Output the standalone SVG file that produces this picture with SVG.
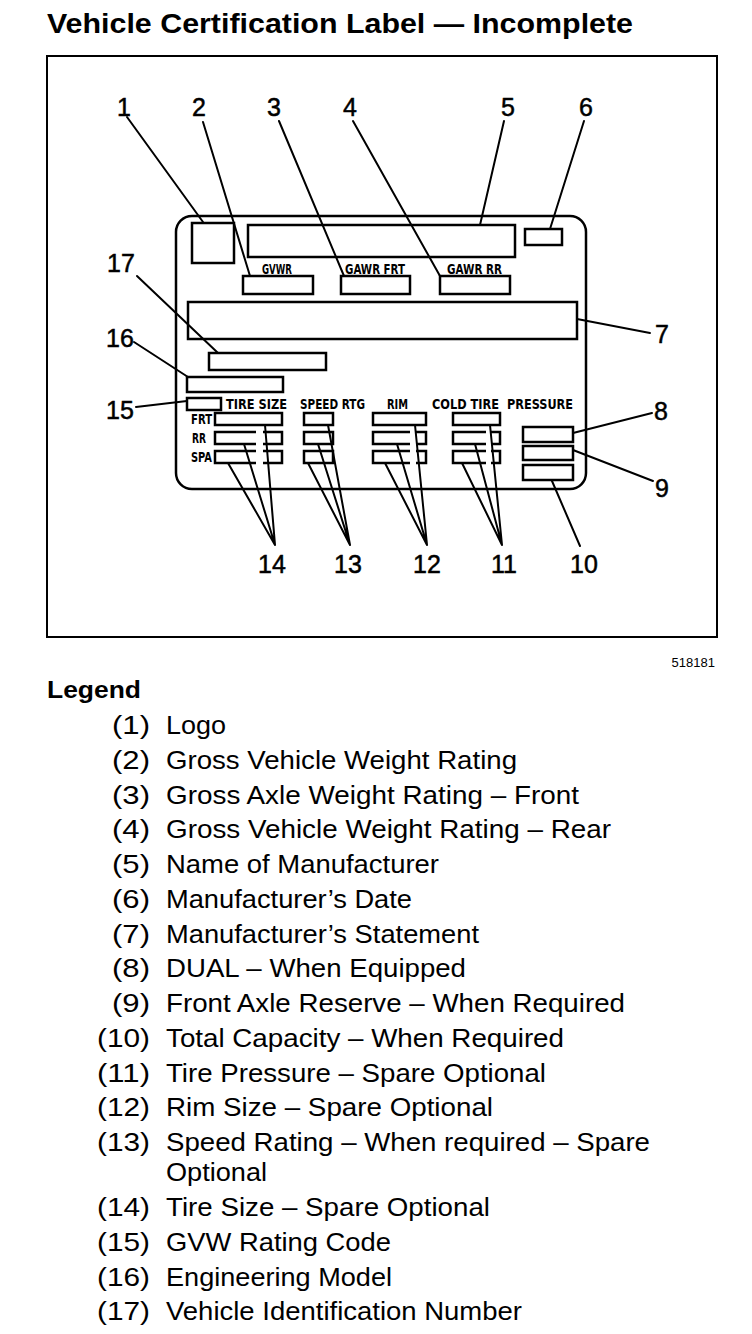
<svg xmlns="http://www.w3.org/2000/svg" width="752" height="1334" viewBox="0 0 752 1334">
<style>
.bg{fill:#fff}
.frame{fill:none;stroke:#000;stroke-width:2}
.card{fill:none;stroke:#000;stroke-width:2.5}
.box{fill:none;stroke:#000;stroke-width:2.5}
.ld{fill:none;stroke:#000;stroke-width:2;stroke-linecap:round}
.num{font-family:"Liberation Sans",Arial,sans-serif;font-size:25px;fill:#000;stroke:#000;stroke-width:0.5;text-anchor:middle}
.lbl{font-family:"Liberation Sans Narrow","DejaVu Sans Condensed","Liberation Sans",sans-serif;font-size:14px;font-weight:bold;fill:#000}
.title{font-family:"Liberation Sans",Arial,sans-serif;font-size:28px;font-weight:bold;fill:#000}
.leg{font-family:"Liberation Sans",Arial,sans-serif;font-size:26px;fill:#000}
.legn{font-family:"Liberation Sans",Arial,sans-serif;font-size:26px;fill:#000;text-anchor:end}
</style>
<rect class="bg" x="0" y="0" width="752" height="1334"/>
<text class="title" x="47" y="33" textLength="586" lengthAdjust="spacingAndGlyphs">Vehicle Certification Label — Incomplete</text>
<rect class="frame" x="47" y="56" width="670" height="581"/>
<text x="715" y="667" style="font-family:'Liberation Sans',Arial,sans-serif;font-size:13px;text-anchor:end">518181</text>

<g id="label-card">
<rect class="card" x="176" y="216" width="410" height="273" rx="16"/>
</g>
<g id="n1-logo"><rect class="box" x="192" y="223" width="42" height="40"/></g>
<g id="n5-manufacturer"><rect class="box" x="248" y="225" width="267" height="32"/></g>
<g id="n6-date"><rect class="box" x="525" y="229" width="37" height="16"/></g>
<g id="n2-gvwr">
<text class="lbl" x="262" y="274" textLength="30" lengthAdjust="spacingAndGlyphs">GVWR</text>
<rect class="box" x="243" y="276" width="70" height="18"/>
</g>
<g id="n3-gawr-frt">
<text class="lbl" x="345" y="274" textLength="60" lengthAdjust="spacingAndGlyphs">GAWR FRT</text>
<rect class="box" x="341" y="276" width="69" height="18"/>
</g>
<g id="n4-gawr-rr">
<text class="lbl" x="447" y="274" textLength="55" lengthAdjust="spacingAndGlyphs">GAWR RR</text>
<rect class="box" x="440" y="276" width="70" height="18"/>
</g>
<g id="n7-statement"><rect class="box" x="188" y="302" width="389" height="37"/></g>
<g id="n17-vin"><rect class="box" x="209" y="353" width="117" height="17"/></g>
<g id="n16-model"><rect class="box" x="187" y="377" width="96" height="15"/></g>
<g id="n15-gvw-code"><rect class="box" x="187" y="398" width="34" height="12"/></g>
<g id="header">
<text class="lbl" x="226" y="409" textLength="61" lengthAdjust="spacingAndGlyphs">TIRE SIZE</text>
<text class="lbl" x="300" y="409" textLength="65" lengthAdjust="spacingAndGlyphs">SPEED RTG</text>
<text class="lbl" x="387" y="409" textLength="21" lengthAdjust="spacingAndGlyphs">RIM</text>
<text class="lbl" x="432" y="409" textLength="67" lengthAdjust="spacingAndGlyphs">COLD TIRE</text>
<text class="lbl" x="507" y="409" textLength="66" lengthAdjust="spacingAndGlyphs">PRESSURE</text>
<text class="lbl" x="191" y="424" textLength="21" lengthAdjust="spacingAndGlyphs">FRT</text>
<text class="lbl" x="192" y="443" textLength="14" lengthAdjust="spacingAndGlyphs">RR</text>
<text class="lbl" x="191" y="462" textLength="21" lengthAdjust="spacingAndGlyphs">SPA</text>
</g>
<g id="n14-tire-size">
<rect class="box" x="215" y="413" width="67" height="12"/>
<path class="box" d="M256 432H215V444H256M263 432H282V444H263"/>
<path class="box" d="M256 451H215V463H256M263 451H282V463H263"/>
</g>
<g id="n13-speed">
<rect class="box" x="304" y="413" width="29" height="12"/>
<rect class="box" x="304" y="432" width="29" height="12"/>
<rect class="box" x="304" y="451" width="29" height="12"/>
</g>
<g id="n12-rim">
<rect class="box" x="373" y="413" width="53" height="12"/>
<path class="box" d="M410 432H373V444H410M416 432H426V444H416"/>
<path class="box" d="M410 451H373V463H410M416 451H426V463H416"/>
</g>
<g id="n11-pressure">
<rect class="box" x="453" y="413" width="47" height="12"/>
<path class="box" d="M486 432H453V444H486M491 432H500V444H491"/>
<path class="box" d="M486 451H453V463H486M491 451H500V463H491"/>
</g>
<g id="n8-dual"><rect class="box" x="523" y="427" width="50" height="15"/></g>
<g id="n9-reserve"><rect class="box" x="523" y="446" width="50" height="14"/></g>
<g id="n10-capacity"><rect class="box" x="523" y="465" width="50" height="15"/></g>

<g id="connectors">
<line class="ld" x1="127" y1="117" x2="203" y2="222"/>
<line class="ld" x1="203" y1="122" x2="250" y2="276"/>
<line class="ld" x1="279" y1="121" x2="344" y2="276"/>
<line class="ld" x1="353" y1="121" x2="440" y2="276"/>
<line class="ld" x1="504" y1="121" x2="480" y2="225"/>
<line class="ld" x1="584" y1="121" x2="550" y2="229"/>
<line class="ld" x1="577" y1="319" x2="650" y2="333"/>
<line class="ld" x1="137" y1="276" x2="218" y2="353"/>
<line class="ld" x1="134" y1="342" x2="188" y2="377"/>
<line class="ld" x1="136" y1="407" x2="187" y2="401"/>
<line class="ld" x1="573" y1="433" x2="652" y2="413"/>
<line class="ld" x1="573" y1="450" x2="653" y2="481"/>
<line class="ld" x1="552" y1="481" x2="580" y2="546"/>
<path class="ld" d="M265 425L275 545M244 444L275 545M228 463L275 545"/>
<path class="ld" d="M328 425L350 545M318 444L350 545M308 463L350 545"/>
<path class="ld" d="M415 425L427 545M397 444L427 545M385 463L427 545"/>
<path class="ld" d="M490 425L502 545M475 444L502 545M462 463L502 545"/>
</g>

<g id="callouts">
<text class="num" x="124" y="116">1</text>
<text class="num" x="199" y="116">2</text>
<text class="num" x="274" y="116">3</text>
<text class="num" x="350" y="116">4</text>
<text class="num" x="508" y="116">5</text>
<text class="num" x="586" y="116">6</text>
<text class="num" x="662" y="343">7</text>
<text class="num" x="661" y="420">8</text>
<text class="num" x="662" y="497">9</text>
<text class="num" x="584" y="573">10</text>
<text class="num" x="504" y="573">11</text>
<text class="num" x="427" y="573">12</text>
<text class="num" x="348" y="573">13</text>
<text class="num" x="272" y="573">14</text>
<text class="num" x="120" y="419">15</text>
<text class="num" x="120" y="347">16</text>
<text class="num" x="121" y="272">17</text>
</g>

<g id="legend">
<text class="title" x="47" y="698" style="font-size:24px" textLength="94" lengthAdjust="spacingAndGlyphs">Legend</text>
<text class="legn" x="150" y="734" textLength="38" lengthAdjust="spacingAndGlyphs">(1)</text><text class="leg" x="166" y="734" textLength="60" lengthAdjust="spacingAndGlyphs">Logo</text>
<text class="legn" x="150" y="769" textLength="38" lengthAdjust="spacingAndGlyphs">(2)</text><text class="leg" x="166" y="769" textLength="351" lengthAdjust="spacingAndGlyphs">Gross Vehicle Weight Rating</text>
<text class="legn" x="150" y="804" textLength="38" lengthAdjust="spacingAndGlyphs">(3)</text><text class="leg" x="166" y="804" textLength="413" lengthAdjust="spacingAndGlyphs">Gross Axle Weight Rating – Front</text>
<text class="legn" x="150" y="838" textLength="38" lengthAdjust="spacingAndGlyphs">(4)</text><text class="leg" x="166" y="838" textLength="445" lengthAdjust="spacingAndGlyphs">Gross Vehicle Weight Rating – Rear</text>
<text class="legn" x="150" y="873" textLength="38" lengthAdjust="spacingAndGlyphs">(5)</text><text class="leg" x="166" y="873" textLength="273" lengthAdjust="spacingAndGlyphs">Name of Manufacturer</text>
<text class="legn" x="150" y="908" textLength="38" lengthAdjust="spacingAndGlyphs">(6)</text><text class="leg" x="166" y="908" textLength="246" lengthAdjust="spacingAndGlyphs">Manufacturer’s Date</text>
<text class="legn" x="150" y="943" textLength="38" lengthAdjust="spacingAndGlyphs">(7)</text><text class="leg" x="166" y="943" textLength="313" lengthAdjust="spacingAndGlyphs">Manufacturer’s Statement</text>
<text class="legn" x="150" y="977" textLength="38" lengthAdjust="spacingAndGlyphs">(8)</text><text class="leg" x="166" y="977" textLength="300" lengthAdjust="spacingAndGlyphs">DUAL – When Equipped</text>
<text class="legn" x="150" y="1012" textLength="38" lengthAdjust="spacingAndGlyphs">(9)</text><text class="leg" x="166" y="1012" textLength="459" lengthAdjust="spacingAndGlyphs">Front Axle Reserve – When Required</text>
<text class="legn" x="150" y="1047" textLength="53" lengthAdjust="spacingAndGlyphs">(10)</text><text class="leg" x="166" y="1047" textLength="398" lengthAdjust="spacingAndGlyphs">Total Capacity – When Required</text>
<text class="legn" x="150" y="1082" textLength="53" lengthAdjust="spacingAndGlyphs">(11)</text><text class="leg" x="166" y="1082" textLength="380" lengthAdjust="spacingAndGlyphs">Tire Pressure – Spare Optional</text>
<text class="legn" x="150" y="1116" textLength="53" lengthAdjust="spacingAndGlyphs">(12)</text><text class="leg" x="166" y="1116" textLength="327" lengthAdjust="spacingAndGlyphs">Rim Size – Spare Optional</text>
<text class="legn" x="150" y="1151" textLength="53" lengthAdjust="spacingAndGlyphs">(13)</text><text class="leg" x="166" y="1151" textLength="484" lengthAdjust="spacingAndGlyphs">Speed Rating – When required – Spare</text>
<text class="leg" x="166" y="1181" textLength="101" lengthAdjust="spacingAndGlyphs">Optional</text>
<text class="legn" x="150" y="1216" textLength="53" lengthAdjust="spacingAndGlyphs">(14)</text><text class="leg" x="166" y="1216" textLength="324" lengthAdjust="spacingAndGlyphs">Tire Size – Spare Optional</text>
<text class="legn" x="150" y="1251" textLength="53" lengthAdjust="spacingAndGlyphs">(15)</text><text class="leg" x="166" y="1251" textLength="225" lengthAdjust="spacingAndGlyphs">GVW Rating Code</text>
<text class="legn" x="150" y="1286" textLength="53" lengthAdjust="spacingAndGlyphs">(16)</text><text class="leg" x="166" y="1286" textLength="226" lengthAdjust="spacingAndGlyphs">Engineering Model</text>
<text class="legn" x="150" y="1320" textLength="53" lengthAdjust="spacingAndGlyphs">(17)</text><text class="leg" x="166" y="1320" textLength="356" lengthAdjust="spacingAndGlyphs">Vehicle Identification Number</text>
</g>
</svg>
